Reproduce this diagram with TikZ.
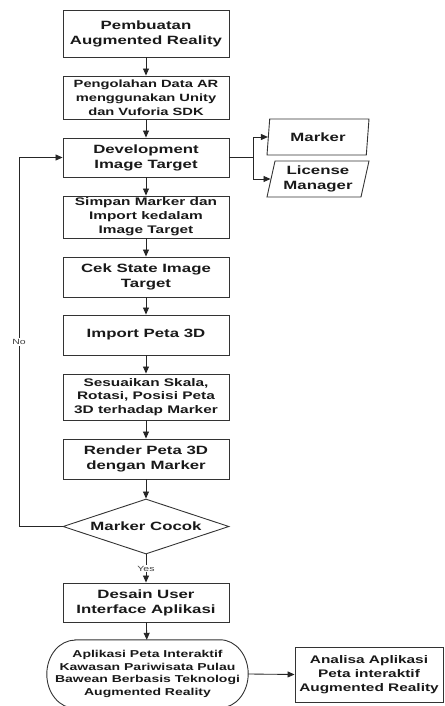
\documentclass[tikz,border=0pt]{standalone}
\usepackage{fontspec}
\newfontfamily\flowfont[FakeStretch=1.4]{Liberation Sans}
\usetikzlibrary{arrows.meta,shapes.geometric}
\begin{document}
\begin{tikzpicture}[x=1pt,y=-1pt,
  line/.style={draw=black!85, line width=0.85pt},
  arr/.style={line, -{Triangle[length=7pt,width=6pt]}},
  outline/.style={draw=black!80, line width=0.9pt},
  base/.style={outline, inner sep=0pt, align=center, text=black!90},
  f12/.style={font=\flowfont\bfseries\fontsize{12}{15}\selectfont},
  f11/.style={font=\flowfont\bfseries\fontsize{11}{14}\selectfont},
  f10/.style={font=\flowfont\bfseries\fontsize{10}{12.7}\selectfont},
  box/.style={base, rectangle, minimum width=166pt},
  para/.style={base, trapezium, trapezium left angle=73, trapezium right angle=107,
    trapezium stretches body, minimum width=102pt, minimum height=36pt, f12},
  lbl/.style={fill=white, inner sep=1pt, text=black!75,
    font=\flowfont\fontsize{7.5}{9}\selectfont}
]
\useasboundingbox (0,0) rectangle (444,706);

% main column
\node[box, f12, minimum height=47pt] (b1) at (146,33.5) {Pembuatan\\Augmented Reality};
\node[box, font=\flowfont\bfseries\fontsize{10.5}{14}\selectfont, minimum height=43pt] (b2) at (146,97.5)
  {Pengolahan Data AR\\menggunakan Unity\\dan Vuforia SDK};
\node[box, f12, minimum height=39pt] (b3) at (146,157.5) {Development\\Image Target};
\node[box, f11, minimum height=42pt] (b4) at (146,217) {Simpan Marker dan\\Import kedalam\\Image Target};
\node[box, f12, minimum height=40pt] (b5) at (146,277) {Cek State Image\\Target};
\node[box, f12, minimum height=40pt] (b6) at (146,335) {Import Peta 3D};
\node[box, font=\flowfont\bfseries\fontsize{11}{13.7}\selectfont, minimum height=46pt] (b7) at (146,397)
  {Sesuaikan Skala,\\Rotasi, Posisi Peta\\3D terhadap Marker};
\node[box, font=\flowfont\bfseries\fontsize{12}{14.5}\selectfont, minimum height=40pt] (b8) at (146,459)
  {Render Peta 3D\\dengan Marker};
\node[base, diamond, aspect=3, minimum width=166pt, minimum height=55pt, f12] (dm) at (146,526.5)
  {Marker Cocok};
\node[box, f12, minimum height=39pt] (b9) at (146,602.5) {Desain User\\Interface Aplikasi};

% terminator: flat top and bottom with half-elliptic ends
\node[inner sep=0pt, align=center, text=black!90, f10, minimum width=201pt, minimum height=68pt] (el) at (147.5,674)
  {Aplikasi Peta Interaktif\\Kawasan Pariwisata Pulau\\Bawean Berbasis Teknologi\\Augmented Reality};
\draw[outline] ([xshift=28pt]el.north west) -- ([xshift=-28pt]el.north east)
  arc[start angle=90, end angle=-90, x radius=28pt, y radius=34pt]
  -- ([xshift=28pt]el.south west)
  arc[start angle=270, end angle=90, x radius=28pt, y radius=34pt] -- cycle;

\node[base, rectangle, minimum width=148pt, minimum height=55pt, f11] (an) at (369,674.5)
  {Analisa Aplikasi\\Peta interaktif\\Augmented Reality};

% inputs of the development step
\node[para] (mk) at (318,137) {Marker};
\node[para] (lm) at (318,179) {License\\Manager};

% main flow
\draw[arr] (b1) -- (b2);
\draw[arr] (b2) -- (b3);
\draw[arr] (b3) -- (b4);
\draw[arr] (b4) -- (b5);
\draw[arr] (b5) -- (b6);
\draw[arr] (b6) -- (b7);
\draw[arr] (b7) -- (b8);
\draw[arr] (b8) -- (dm);
\draw[arr] (dm.south) -- node[lbl]{Yes} (b9.north);
\draw[arr] (b9) -- (el);
\draw[arr] (el.east) -- (an.west);

% branch to the two inputs
\coordinate (br) at (253,157.5);
\draw[line] (b3.east) -- (br);
\draw[arr] (br) |- (mk.west);
\draw[arr] (br) |- (lm.west);

% loop back when the marker does not match
\coordinate (lp1) at (19,526.5);
\coordinate (lp2) at (19,157.5);
\draw[arr] (dm.west) -- (lp1) -- node[lbl]{No} (lp2) -- (b3.west);
\end{tikzpicture}
\end{document}
